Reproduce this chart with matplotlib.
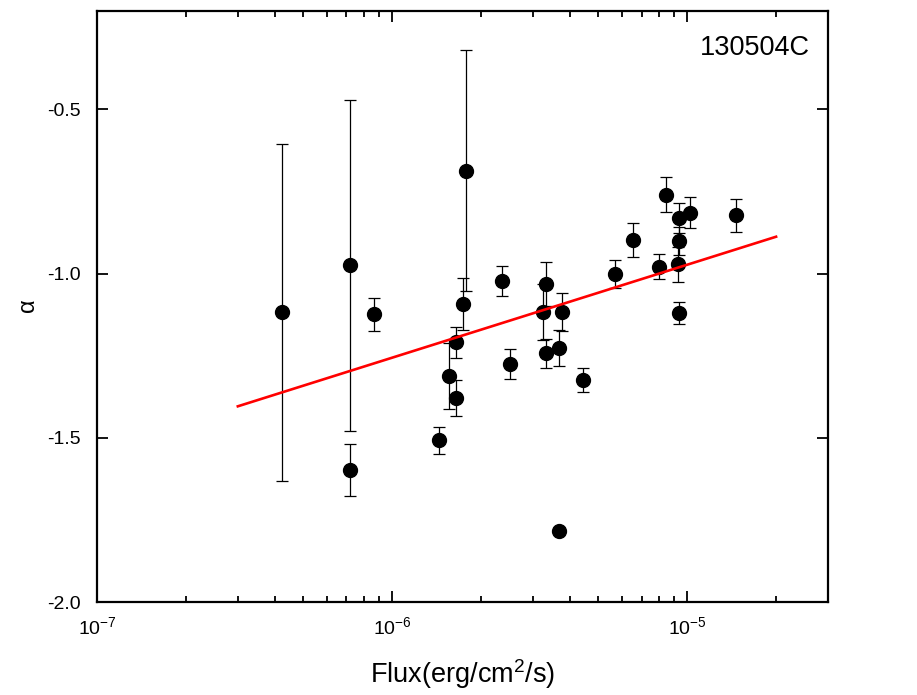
import numpy as np
import matplotlib
matplotlib.use("Agg")
from matplotlib import pyplot as plt
from matplotlib.ticker import LogLocator, FixedLocator, NullFormatter

plt.rcParams['font.family'] = ['Liberation Sans', 'DejaVu Sans']
plt.rcParams['mathtext.default'] = 'regular'

# flux (erg/cm2/s), alpha and symmetric 1-sigma errors
flux = [4.24e-7, 7.21e-7, 7.21e-7, 8.69e-7, 1.78e-6, 1.74e-6, 1.64e-6,
        1.56e-6, 1.64e-6, 1.44e-6, 2.35e-6, 2.50e-6, 3.32e-6, 3.25e-6,
        3.32e-6, 3.77e-6, 3.69e-6, 3.68e-6, 4.42e-6, 5.70e-6, 6.56e-6,
        8.02e-6, 8.44e-6, 9.37e-6, 9.40e-6, 9.27e-6, 9.37e-6, 1.02e-5,
        1.46e-5]
alpha = [-1.118, -0.975, -1.598, -1.124, -0.686, -1.093, -1.209,
         -1.311, -1.379, -1.508, -1.022, -1.274, -1.030, -1.118,
         -1.243, -1.118, -1.227, -1.785, -1.324, -1.000, -0.898,
         -0.979, -0.759, -0.830, -0.900, -0.972, -1.120, -0.814,
         -0.822]
alpha_err = [0.512, 0.505, 0.080, 0.050, 0.366, 0.080, 0.047,
             0.100, 0.055, 0.040, 0.045, 0.046, 0.067, 0.085,
             0.044, 0.058, 0.054, 0.0, 0.036, 0.043, 0.051,
             0.038, 0.054, 0.046, 0.042, 0.053, 0.033, 0.048,
             0.050]

# linear fit (straight in semilog space), endpoints
fit_flux = [3.0e-7, 2.0e-5]
fit_alpha = [-1.404, -0.8875]

fig = plt.figure(figsize=(9.17, 6.95), dpi=100)
ax = fig.add_axes([0.1058, 0.1338, 0.7972, 0.8504])

ax.errorbar(flux, alpha, yerr=alpha_err, fmt='o', color='black',
            ms=10, ecolor='black', elinewidth=0.9, capsize=4.5,
            capthick=0.9, zorder=3)
ax.plot(fit_flux, fit_alpha, color='red', lw=1.9, zorder=4)

ax.set_xscale('log')
ax.set_xlim(1e-7, 3e-5)
ax.set_ylim(-2.0, -0.2)

ax.xaxis.set_major_locator(FixedLocator([1e-7, 1e-6, 1e-5]))
ax.set_xticklabels([r'$10^{-7}$', r'$10^{-6}$', r'$10^{-5}$'])
ax.xaxis.set_minor_locator(LogLocator(base=10, subs=np.arange(2, 10)))
ax.xaxis.set_minor_formatter(NullFormatter())
ax.set_yticks([-2.0, -1.5, -1.0, -0.5])
ax.set_yticklabels(['-2.0', '-1.5', '-1.0', '-0.5'])

ax.tick_params(which='both', direction='in', top=True, right=True,
               width=1.3)
ax.tick_params(which='major', length=8)
ax.tick_params(which='minor', length=4)
ax.tick_params(axis='x', which='major', labelsize=14, pad=10)
ax.tick_params(axis='y', which='major', labelsize=14, pad=12)
for s in ax.spines.values():
  s.set_linewidth(1.6)

ax.set_xlabel(r'Flux(erg/cm$^2$/s)', fontsize=19.5, labelpad=14)
ax.set_ylabel(r'$\alpha$', fontsize=17, labelpad=5)
ax.text(0.975, 0.938, '130504C', transform=ax.transAxes, ha='right',
        va='center', fontsize=19.5)

fig.savefig('out.png', dpi=100, facecolor='white')
